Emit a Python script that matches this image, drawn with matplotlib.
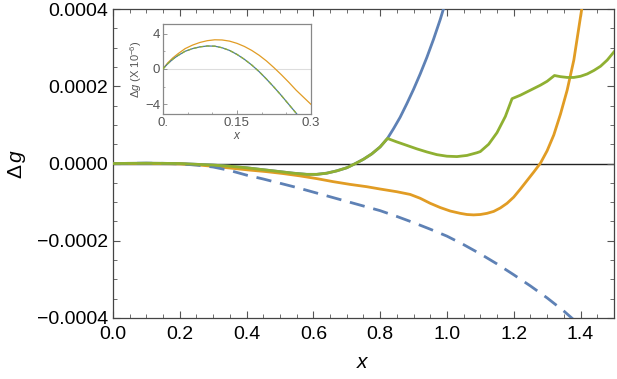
import numpy as np
import matplotlib
matplotlib.use("Agg")
import matplotlib.pyplot as plt
from matplotlib.ticker import MultipleLocator, FuncFormatter

plt.rcParams['font.family'] = ['Liberation Sans', 'DejaVu Sans']
plt.rcParams['mathtext.fontset'] = 'custom'
plt.rcParams['mathtext.it'] = 'Liberation Sans:italic'
plt.rcParams['mathtext.rm'] = 'Liberation Sans'

blue = '#5E81B5'
orange = '#E19C24'
green = '#8FB032'

# main panel data
shared_x = [0.0, 0.05, 0.1, 0.15, 0.2, 0.25, 0.3, 0.35, 0.4, 0.45, 0.5, 0.54, 0.58,
            0.61, 0.64, 0.67, 0.70, 0.726, 0.75, 0.775, 0.80, 0.822]
shared_y = [0.0, 0.0000005, 0.0000008, 0.0000005, 0.0, -0.000002, -0.000004, -0.000007,
            -0.000011, -0.000016, -0.000021, -0.000025, -0.000028, -0.000028, -0.000025,
            -0.000019, -0.000011, 0.0, 0.000011, 0.000025, 0.000043, 0.000065]

blue_x = shared_x + [0.84, 0.86, 0.88, 0.90, 0.92, 0.94, 0.96, 0.98, 1.0]
blue_y = shared_y + [0.00009, 0.00012, 0.000155, 0.000192, 0.000232, 0.000275,
                     0.000322, 0.000373, 0.00043]

green_x = shared_x + [0.85, 0.88, 0.91, 0.94, 0.97, 1.0, 1.03, 1.06, 1.09, 1.10, 1.125,
                      1.15, 1.175, 1.195, 1.22, 1.25, 1.28, 1.30, 1.322, 1.34, 1.36,
                      1.38, 1.40, 1.42, 1.44, 1.46, 1.48, 1.5]
green_y = shared_y + [0.000056, 0.000047, 0.000038, 0.00003, 0.000023, 0.000019,
                      0.000018, 0.000021, 0.000028, 0.000031, 0.00005, 0.00008, 0.000122,
                      0.000168, 0.000177, 0.00019, 0.000203, 0.000213, 0.000228,
                      0.000225, 0.000223, 0.000223, 0.000226, 0.000232, 0.000241,
                      0.000252, 0.000268, 0.000289]

orange_x = [0.0, 0.1, 0.2, 0.26, 0.31, 0.36, 0.41, 0.46, 0.51, 0.56, 0.61, 0.66, 0.71,
            0.76, 0.80, 0.85, 0.89, 0.92, 0.95, 0.98, 1.01, 1.04, 1.06, 1.08, 1.10, 1.12,
            1.14, 1.16, 1.18, 1.20, 1.22, 1.24, 1.26, 1.28, 1.30, 1.32, 1.34, 1.36,
            1.38, 1.40, 1.42]
orange_y = [0.0, 0.0000003, -0.000001, -0.000004, -0.000008, -0.0000125, -0.000017,
            -0.000021, -0.000026, -0.000032, -0.000039, -0.000047, -0.000054, -0.00006,
            -0.000066, -0.000073, -0.00008, -0.00009, -0.000103, -0.000114, -0.000123,
            -0.000129, -0.000132, -0.000133, -0.000132, -0.000129, -0.000124, -0.000115,
            -0.000103, -0.000087, -0.000066, -0.000044, -0.000022, 0.000001, 0.000033,
            0.000074, 0.000128, 0.00019, 0.000268, 0.00038, 0.00049]

dash_x = [0.0, 0.1, 0.15, 0.2, 0.25, 0.3, 0.35, 0.4, 0.45, 0.5, 0.55, 0.6, 0.65, 0.7,
          0.75, 0.8, 0.85, 0.9, 0.95, 1.0, 1.05, 1.1, 1.15, 1.2, 1.25, 1.3, 1.35, 1.4]
dash_y = [0.0, 0.000001, 0.0000005, -0.000001, -0.000004, -0.000009, -0.000018,
          -0.00003, -0.00004, -0.000051, -0.000062, -0.000074, -0.000086, -0.000098,
          -0.00011, -0.000122, -0.000137, -0.000153, -0.00017, -0.000188, -0.00021,
          -0.000234, -0.00026, -0.000288, -0.000317, -0.000348, -0.000382, -0.00042]

# inset data (units of 1e-6)
in_orange_x = [0.0, 0.01, 0.02, 0.03, 0.045, 0.06, 0.075, 0.09, 0.105, 0.12, 0.135,
               0.15, 0.165, 0.18, 0.195, 0.21, 0.225, 0.24, 0.255, 0.27, 0.285, 0.3]
in_orange_y = [0.0, 0.7, 1.25, 1.7, 2.3, 2.7, 3.0, 3.2, 3.3, 3.28, 3.15, 2.9, 2.55, 2.1,
               1.55, 0.9, 0.15, -0.65, -1.5, -2.4, -3.2, -4.0]
in_blue_x = [0.0, 0.01, 0.02, 0.03, 0.045, 0.06, 0.075, 0.09, 0.105, 0.12, 0.135, 0.15,
             0.165, 0.18, 0.195, 0.21, 0.225, 0.24, 0.255, 0.27, 0.28]
in_blue_y = [0.0, 0.6, 1.1, 1.5, 2.0, 2.3, 2.5, 2.6, 2.58, 2.4, 2.1, 1.65, 1.1, 0.45,
             -0.3, -1.15, -2.05, -3.0, -4.0, -5.0, -5.7]

fig = plt.figure(figsize=(6.17, 3.79), dpi=100)
ax = fig.add_axes([0.183, 0.161, 0.812, 0.815])

ax.axhline(0, color='#222222', lw=1.0, zorder=1)
ax.plot(blue_x, blue_y, color=blue, lw=2.0, zorder=3)
ax.plot(orange_x, orange_y, color=orange, lw=2.0, zorder=3)
ax.plot(green_x, green_y, color=green, lw=2.0, zorder=4)
ax.plot(dash_x, dash_y, color=blue, lw=2.0, dashes=(5.5, 3.2), zorder=3)

ax.set_xlim(0, 1.5)
ax.set_ylim(-0.0004, 0.0004)
ax.xaxis.set_major_locator(MultipleLocator(0.2))
ax.xaxis.set_minor_locator(MultipleLocator(0.05))
ax.yaxis.set_major_locator(MultipleLocator(0.0002))
ax.yaxis.set_minor_locator(MultipleLocator(0.00005))
ax.xaxis.set_major_formatter(FuncFormatter(lambda v, p: f"{v:.1f}"))
ax.yaxis.set_major_formatter(FuncFormatter(
    lambda v, p: (f"{v:.4f}" if abs(v) > 1e-9 else "0.0000").replace('-', '\u2212')))
ax.tick_params(which='both', direction='in', top=True, right=True,
               color='#555555', labelsize=14, labelcolor='black')
ax.tick_params(axis='x', pad=6)
ax.tick_params(axis='y', pad=3.5)
ax.tick_params(which='major', length=5, width=0.8)
ax.tick_params(which='minor', length=3, width=0.6)
for s in ax.spines.values():
    s.set_color('#444444')
    s.set_linewidth(0.9)
ax.set_xlabel(r'$x$', fontsize=15, labelpad=7)
ax.set_ylabel(r'$\Delta\,g$', fontsize=15, labelpad=6)

# inset
ins = fig.add_axes([0.264, 0.699, 0.240, 0.238])
ins.axhline(0, color='#dddddd', lw=0.8, zorder=1)
ins.plot(in_orange_x, in_orange_y, color=orange, lw=0.9, zorder=3)
ins.plot(in_blue_x, in_blue_y, color='#4a7a9c', lw=0.9, zorder=3)
ins.plot(in_blue_x, in_blue_y, color=green, lw=0.9, dashes=(3, 2), zorder=4)
ins.set_xlim(0, 0.3)
ins.set_ylim(-5.1, 5.1)
ins.xaxis.set_major_locator(MultipleLocator(0.15))
ins.xaxis.set_minor_locator(MultipleLocator(0.05))
ins.yaxis.set_major_locator(MultipleLocator(4))
ins.yaxis.set_minor_locator(MultipleLocator(2))
ins.xaxis.set_major_formatter(FuncFormatter(
    lambda v, p: {0: "0.", 1: "0.15", 2: "0.3"}.get(int(round(v / 0.15)), "")))
ins.yaxis.set_major_formatter(FuncFormatter(lambda v, p: f"{v:.0f}".replace('-', '\u2212')))
ins.tick_params(which='both', direction='in', color='#888888', labelsize=9.5,
                labelcolor='#555555', pad=2)
ins.tick_params(which='major', length=3, width=0.6)
ins.tick_params(which='minor', length=1.5, width=0.5)
for s in ins.spines.values():
    s.set_color('#888888')
    s.set_linewidth(0.9)
ins.set_xlabel(r'$x$', fontsize=8.5, color='#555555', labelpad=1)
ins.set_ylabel(r'$\Delta g$ (X 10$^{-6}$)', fontsize=8, color='#555555', labelpad=1)

fig.savefig("out.png", dpi=100)
